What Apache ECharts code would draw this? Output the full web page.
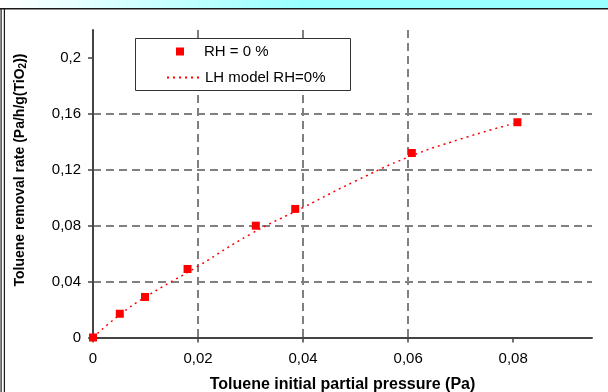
<!DOCTYPE html>
<html>
<head>
<meta charset="utf-8">
<script src="https://cdn.jsdelivr.net/npm/echarts/dist/echarts.min.js"></script>
<style>
html,body{margin:0;padding:0;background:#fff;}
#chart{width:608px;height:392px;}
</style>
</head>
<body>
<div id="chart"></div>
<script>
// Measured data points (RH = 0 %)
const pressure = [0, 0.0051, 0.0099, 0.018, 0.031, 0.0385, 0.0607, 0.0808];
const rate = [0, 0.017, 0.029, 0.049, 0.080, 0.092, 0.132, 0.154];
// LH model curve
const modelPressure = [0, 0.005, 0.01, 0.02, 0.03, 0.04, 0.05, 0.06, 0.07, 0.08];
const modelRate = [0, 0.016, 0.029, 0.051, 0.074, 0.093, 0.112, 0.129, 0.142, 0.153];
// Tick labels
const xTickValues = [0, 0.02, 0.04, 0.06, 0.08];
const yTickValues = [0, 0.04, 0.08, 0.12, 0.16, 0.2];
const seriesNames = ['RH = 0 %', 'LH model RH=0%'];
const xTitle = 'Toluene initial partial pressure (Pa)';

const FONT = '"Liberation Sans", Arial, sans-serif';
const fmt = v => String(+v.toFixed(4)).replace('.', ',');
const legendText = {fontSize: 15, fontFamily: FONT, color: '#000'};

const chart = echarts.init(document.getElementById('chart'), null, {renderer: 'canvas'});
chart.setOption({
  backgroundColor: '#ffffff',
  animation: false,
  grid: {left: 93, right: 16, top: 30, bottom: 54.5, containLabel: false, outerBoundsMode: 'none'},
  legend: [
    {
      left: 176, top: 44, padding: 0, z: 6,
      itemWidth: 8, itemHeight: 8,
      textStyle: Object.assign({padding: [0, 0, 0, 15]}, legendText),
      data: [{name: seriesNames[0], icon: 'rect'}]
    },
    {
      left: 166, top: 70, padding: 0, z: 6,
      itemWidth: 32, itemHeight: 8,
      textStyle: Object.assign({padding: [0, 0, 0, 1]}, legendText),
      data: [{name: seriesNames[1], itemStyle: {opacity: 0}}]
    }
  ],
  xAxis: {
    type: 'value', min: 0, max: 0.095, interval: 0.02,
    name: xTitle, nameLocation: 'middle', nameGap: 39,
    nameTextStyle: {fontSize: 16, fontWeight: 'bold', fontFamily: FONT, color: '#000'},
    axisLine: {show: true, lineStyle: {color: '#444', width: 2}},
    axisTick: {show: true, length: 5, inside: false, customValues: xTickValues, lineStyle: {color: '#444', width: 1.5}},
    axisLabel: {customValues: xTickValues, formatter: fmt, margin: 14, fontSize: 15, fontFamily: FONT, color: '#000'},
    splitLine: {show: true, showMinLine: false, showMaxLine: false, lineStyle: {color: '#808080', width: 2, type: [8, 5]}}
  },
  yAxis: {
    type: 'value', min: 0, max: 0.22, interval: 0.04,
    axisLine: {show: true, lineStyle: {color: '#444', width: 2}},
    axisTick: {show: true, length: 5, inside: false, customValues: yTickValues, lineStyle: {color: '#444', width: 1.5}},
    axisLabel: {customValues: yTickValues, formatter: fmt, margin: 12, fontSize: 15, fontFamily: FONT, color: '#000'},
    splitLine: {show: true, showMinLine: false, showMaxLine: false, lineStyle: {color: '#808080', width: 2, type: [8, 5]}}
  },
  graphic: [
    {type: 'rect', z: 100, shape: {x: 0, y: 0, width: 608, height: 8},
     style: {fill: new echarts.graphic.LinearGradient(0, 0, 1, 0, [
       {offset: 0, color: '#ffffff'}, {offset: 0.5, color: '#99ffff'}, {offset: 1, color: '#99ffff'}])}},
    {type: 'rect', z: 100, shape: {x: 0, y: 8, width: 608, height: 1.5}, style: {fill: '#1a1a1a'}},
    {type: 'rect', z: 100, shape: {x: 0.5, y: 8, width: 1.2, height: 384}, style: {fill: '#1a1a1a'}},
    {type: 'rect', z: 100, shape: {x: 3.8, y: 8, width: 1.2, height: 384}, style: {fill: '#1a1a1a'}},
    {type: 'rect', z: 5, shape: {x: 135.5, y: 38.5, width: 215, height: 52},
     style: {fill: '#ffffff', stroke: '#333333', lineWidth: 1}},
    {type: 'text', z: 100, x: 20, y: 170, rotation: Math.PI / 2,
     style: {
       text: '{t|Toluene removal rate (Pa/h/g(TiO}{s|2}{t|))}',
       align: 'center', verticalAlign: 'middle',
       rich: {
         t: {fontSize: 14, fontWeight: 'bold', fontFamily: FONT, fill: '#000'},
         s: {fontSize: 10, fontWeight: 'bold', fontFamily: FONT, fill: '#000', padding: [6, 0, 0, 0]}
       }
     }}
  ],
  series: [
    {
      name: seriesNames[0], type: 'scatter', symbol: 'rect', symbolSize: 8, z: 3,
      itemStyle: {color: '#ff0000', opacity: 1},
      data: pressure.map((p, i) => [p, rate[i]])
    },
    {
      name: seriesNames[1], type: 'line', smooth: true, showSymbol: false, symbol: 'none', z: 2,
      lineStyle: {color: '#ff0000', width: 1.5, type: [2, 4]},
      itemStyle: {color: '#ff0000'},
      data: modelPressure.map((p, i) => [p, modelRate[i]])
    }
  ]
});
</script>
</body>
</html>
